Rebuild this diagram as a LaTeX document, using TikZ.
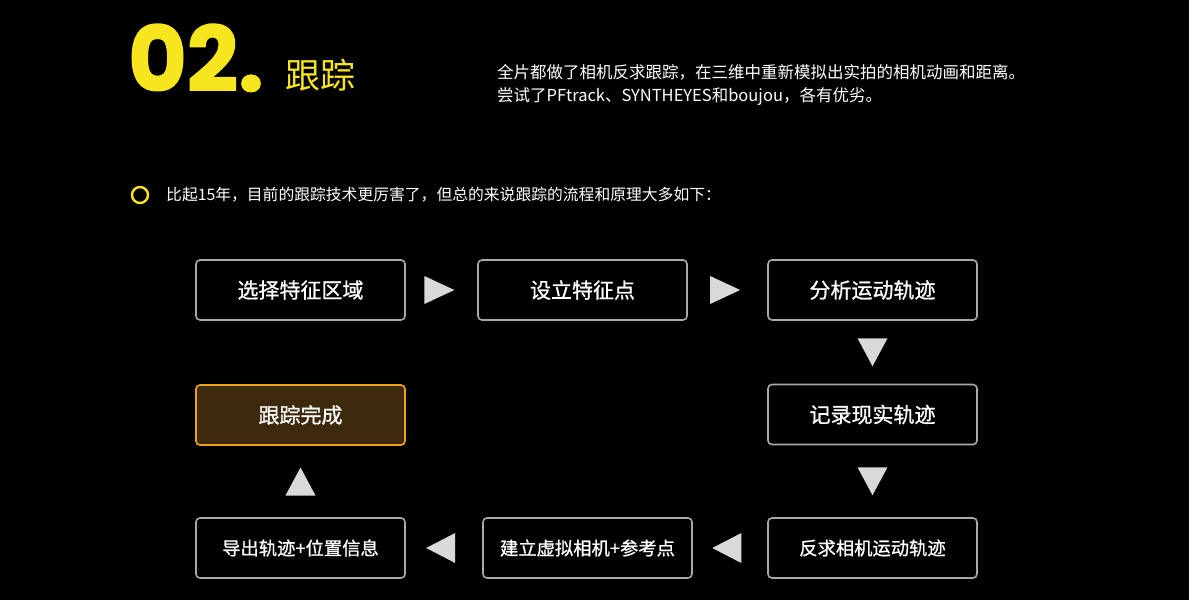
\documentclass[tikz,border=0pt]{standalone}
\usepackage{fontspec}
\setmainfont{Noto Sans CJK SC}
\newfontfamily\cjk{Noto Sans CJK SC}
\newfontfamily\cjkm[FakeBold=0.9]{Noto Sans CJK SC}
\newfontfamily\pop[FakeBold=1.5]{Poppins}
\usetikzlibrary{calc}
\definecolor{ylw}{HTML}{F7E51E}
\definecolor{boxline}{HTML}{A8A8A8}
\definecolor{tri}{HTML}{D9D9D9}
\definecolor{donefill}{HTML}{3D2A0C}
\definecolor{doneline}{HTML}{F0A21E}
\tikzset{
  stepbox/.style={draw=boxline, line width=1.6pt, rounded corners=4pt, minimum width=209pt, minimum height=60pt, text=white, font=\cjkm\fontsize{21}{24}\selectfont, inner sep=0pt},
  lowbox/.style={stepbox, font=\cjkm\fontsize{18.3}{22}\selectfont},
  donebox/.style={stepbox, draw=doneline, fill=donefill},
  trifill/.style={fill=tri},
}
\begin{document}
\begin{tikzpicture}[x=1pt,y=-1pt]
\fill[black] (0,0) rectangle (1189,600);
\useasboundingbox (0,0) rectangle (1189,600);
% title
\node[anchor=south west, inner sep=0pt, text=ylw, font=\pop\bfseries\fontsize{90}{90}\selectfont] (num) at (128,92) {02.};
\node[anchor=west, inner sep=0pt, text=ylw, font=\cjk\fontsize{35}{40}\selectfont] (ttl) at (285,75) {跟踪};
\node[anchor=west, inner sep=0pt, text=white, align=left, font=\cjk\fontsize{16.5}{23}\selectfont] (desc) at (497,84.5) {全片都做了相机反求跟踪，在三维中重新模拟出实拍的相机动画和距离。\\尝试了PFtrack、SYNTHEYES和boujou，各有优劣。};
% bullet
\node[draw=ylw, line width=2.4pt, circle, minimum size=16pt, inner sep=0pt] (bul) at (140,195) {};
\node[anchor=west, inner sep=0pt, text=white, font=\cjk\fontsize{15.8}{20}\selectfont] (intro) at (166,195) {比起15年，目前的跟踪技术更厉害了，但总的来说跟踪的流程和原理大多如下：};
% boxes
\node[stepbox] (b1) at (300.5,290) {选择特征区域};
\node[stepbox] (b2) at (582.5,290) {设立特征点};
\node[stepbox] (b3) at (872.5,290) {分析运动轨迹};
\node[stepbox] (b4) at (872.5,414.5) {记录现实轨迹};
\node[lowbox] (b5) at (872.5,548) {反求相机运动轨迹};
\node[lowbox] (b6) at (587.5,548) {建立虚拟相机+参考点};
\node[lowbox] (b7) at (300.5,548) {导出轨迹+位置信息};
\node[donebox] (b8) at (300.5,415) {跟踪完成};
% connectors (triangles)
\path (b1.east) -- coordinate[pos=0.47] (m1) (b2.west);
\path (b2.east) -- coordinate[pos=0.47] (m2) (b3.west);
\path (b3.south) -- coordinate (m3) (b4.north);
\path (b4.south) -- coordinate (m4) (b5.north);
\path (b5.west) -- coordinate[pos=0.55] (m5) (b6.east);
\path (b6.west) -- coordinate[pos=0.55] (m6) (b7.east);
\path (b7.north) -- coordinate (m7) (b8.south);
\fill[trifill] ($(m1)+(-15,-14)$) -- ($(m1)+(15,0)$) -- ($(m1)+(-15,14)$) -- cycle;
\fill[trifill] ($(m2)+(-15,-14)$) -- ($(m2)+(15,0)$) -- ($(m2)+(-15,14)$) -- cycle;
\fill[trifill] ($(m3)+(-15,-14)$) -- ($(m3)+(15,-14)$) -- ($(m3)+(0,14)$) -- cycle;
\fill[trifill] ($(m4)+(-15,-14)$) -- ($(m4)+(15,-14)$) -- ($(m4)+(0,14)$) -- cycle;
\fill[trifill] ($(m5)+(15,-15)$) -- ($(m5)+(-14,0)$) -- ($(m5)+(15,15)$) -- cycle;
\fill[trifill] ($(m6)+(15,-15)$) -- ($(m6)+(-14,0)$) -- ($(m6)+(15,15)$) -- cycle;
\fill[trifill] ($(m7)+(-15,14)$) -- ($(m7)+(15,14)$) -- ($(m7)+(0,-14)$) -- cycle;
\end{tikzpicture}
\end{document}
